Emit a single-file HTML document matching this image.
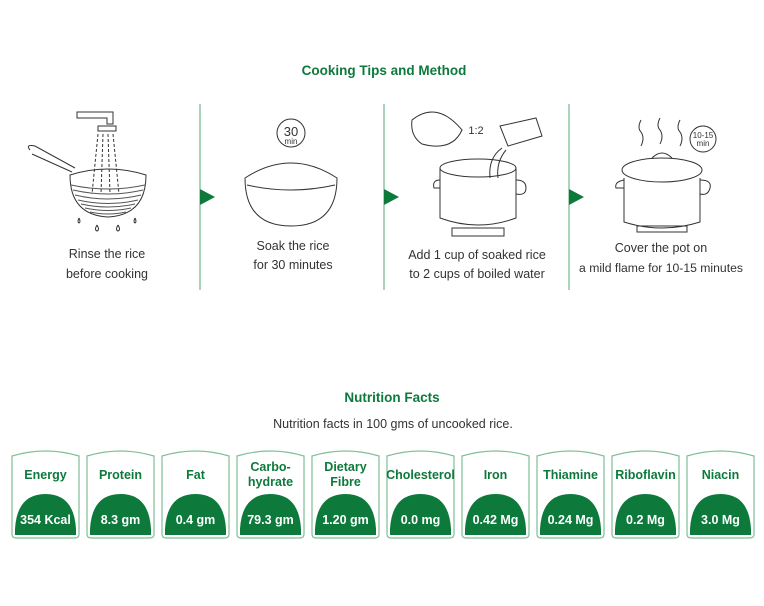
<!DOCTYPE html>
<html><head><meta charset="utf-8"><style>
body{margin:0;background:#fff;width:764px;height:606px;overflow:hidden}
svg{display:block}
text{font-family:"Liberation Sans",Arial,sans-serif}
</style></head><body>
<svg width="764" height="606" viewBox="0 0 764 606">
<g fill="#333" font-size="12.5" text-anchor="middle">
<text x="384" y="75" fill="#0d7a3c" font-weight="bold" font-size="13.5">Cooking Tips and Method</text>
<text x="107" y="258">Rinse the rice</text>
<text x="107" y="278">before cooking</text>
<text x="293" y="250">Soak the rice</text>
<text x="293" y="269">for 30 minutes</text>
<text x="477" y="259">Add 1 cup of soaked rice</text>
<text x="477" y="278">to 2 cups of boiled water</text>
<text x="661" y="252">Cover the pot on</text>
<text x="661" y="272" font-size="12.2">a mild flame for 10-15 minutes</text>
<text x="392" y="402" fill="#0d7a3c" font-weight="bold" font-size="13.5">Nutrition Facts</text>
<text x="393" y="428" font-size="12.5">Nutrition facts in 100 gms of uncooked rice.</text>
</g>
<g stroke="#5aa978" stroke-width="1">
<line x1="200" y1="104" x2="200" y2="290"/><line x1="384" y1="104" x2="384" y2="290"/><line x1="569" y1="104" x2="569" y2="290"/>
</g>
<g fill="#0d7a3c">
<polygon points="200,189 215,197 200,205"/><polygon points="384,189 399,197 384,205"/><polygon points="569,189 584,197 569,205"/>
</g>
<g fill="none" stroke="#333" stroke-width="1">
<!-- strainer -->
<path d="M77 112 h36 v12 h-6 v-6 h-30 z"/><rect x="98" y="126" width="18" height="5"/>
<path d="M30 150 q-5 -6 5 -4 l40 22" /><path d="M32 154 l40 18"/>
<path d="M70 175 q38 -12 76 0 q0 40 -38 42 q-38 -2 -38 -42z"/>
<path d="M71 185 q37 8 74 0 M73 190 q35 8 70 0 M75 195 q33 8 66 0 M78 200 q30 7 60 0 M81 204 q27 6 54 0 M85 208 q23 5 46 0 M90 212 q18 4 36 0" stroke="#555"/>
<path d="M98 134 l-6 60 M103 134 l-2 60 M108 134 l2 60 M113 134 l6 60" stroke-dasharray="3 2"/>
<path d="M79 218 q-2 4 0 5 q2 -1 0 -5 M97 225 q-3 5 0 6 q3 -1 0 -6 M118 225 q-3 5 0 6 q3 -1 0 -6 M135 218 q-2 4 0 5 q2 -1 0 -5"/>
<!-- bowl -->
<circle cx="291" cy="133" r="14"/>
<path d="M245 178 q46 -30 92 0 q0 48 -46 48 q-46 0 -46 -48z"/><path d="M247 185 q44 10 88 0"/>
<!-- pot 1 -->
<path d="M440 168 v50 q38 14 76 0 v-50"/><ellipse cx="478" cy="168" rx="38" ry="9"/>
<path d="M440 180 q-8 0 -6 8 h6 M516 180 q10 0 10 8 q0 8 -10 6"/>
<path d="M452 228 h52 v8 h-52z"/>
<path d="M412 120 q25 -20 50 10 q-10 22 -40 14 q-12 -8 -10 -24z"/>
<path d="M500 126 l36 -8 l6 18 l-34 10 z"/><path d="M502 148 q-14 10 -12 30 M506 150 q-10 12 -8 28"/>
<!-- pot 2 -->
<path d="M624 178 v44 q38 12 76 0 v-44"/><ellipse cx="662" cy="170" rx="40" ry="12"/>
<path d="M652 158 q10 -10 20 0"/><path d="M624 180 q-10 2 -8 8 h8 M700 180 q12 0 10 8 q-2 8 -10 6"/>
<path d="M637 226 h50 v6 h-50z"/>
<path d="M641 120 q-4 8 0 12 q4 6 0 14 M660 118 q-4 8 0 12 q4 6 0 14 M680 120 q-4 8 0 12 q4 6 0 14"/>
<circle cx="703" cy="139" r="13"/>
</g>
<g fill="#333" text-anchor="middle">
<text x="291" y="136" font-size="13">30</text><text x="291" y="144" font-size="8">min</text>
<text x="476" y="134" font-size="11">1:2</text>
<text x="703" y="138" font-size="8">10-15</text><text x="703" y="146" font-size="8">min</text>
</g>
<g id="cards" font-weight="bold" text-anchor="middle" font-size="12.5">
</g>
</svg>
<script>
var d=[["Energy","354 Kcal"],["Protein","8.3 gm"],["Fat","0.4 gm"],["Carbo-|hydrate","79.3 gm"],["Dietary|Fibre","1.20 gm"],["Cholesterol","0.0 mg"],["Iron","0.42 Mg"],["Thiamine","0.24 Mg"],["Riboflavin","0.2 Mg"],["Niacin","3.0 Mg"]];
var s="";d.forEach(function(c,i){var x=12+i*75,cx=x+33.5;
s+='<path d="M'+x+' 456 q33.5 -10 67 0 v78 q0 4 -4 4 h-59 q-4 0 -4 -4z" fill="none" stroke="#7fbf96" stroke-width="1.2"/>';
s+='<path d="M'+(x+3)+' 535 v-6 q2 -35 30.5 -35 q28.5 0 30.5 35 v6z" fill="#0d7a3c"/>';
var l=c[0].split("|");
if(l.length==1)s+='<text x="'+cx+'" y="479" fill="#0d7a3c">'+l[0]+'</text>';
else s+='<text x="'+cx+'" y="471" fill="#0d7a3c">'+l[0]+'</text><text x="'+cx+'" y="486" fill="#0d7a3c">'+l[1]+'</text>';
s+='<text x="'+cx+'" y="524" fill="#fff">'+c[1]+'</text>';});
document.getElementById("cards").innerHTML=s;
</script>
</body></html>
